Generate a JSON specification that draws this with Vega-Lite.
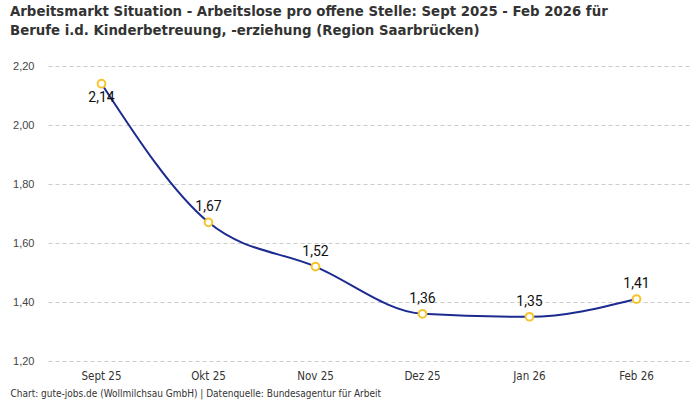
{
  "$schema": "https://vega.github.io/schema/vega-lite/v6.json",
  "width": 642,
  "height": 295,
  "autosize": {"type": "none"},
  "padding": {"left": 48, "top": 66, "right": 10, "bottom": 39},
  "background": "white",
  "config": {
    "locale": {"number": {"decimal": ",", "thousands": ".", "grouping": [3], "currency": ["", " €"]}},
    "view": {"stroke": null}
  },
  "title": {
    "text": ["Arbeitsmarkt Situation - Arbeitslose pro offene Stelle: Sept 2025 - Feb 2026 für", "Berufe i.d. Kinderbetreuung, -erziehung (Region Saarbrücken)"],
    "anchor": "start",
    "frame": "group",
    "dx": -38,
    "offset": 22,
    "font": "DejaVu Sans Condensed, Roboto",
    "fontSize": 14.8,
    "fontWeight": "bold",
    "color": "#333333",
    "lineHeight": 19
  },
  "data": {
    "values": [
      {"monat": "Sept 25", "wert": 2.14},
      {"monat": "Okt 25", "wert": 1.67},
      {"monat": "Nov 25", "wert": 1.52},
      {"monat": "Dez 25", "wert": 1.36},
      {"monat": "Jan 26", "wert": 1.35},
      {"monat": "Feb 26", "wert": 1.41}
    ]
  },
  "encoding": {
    "x": {
      "field": "monat",
      "type": "ordinal",
      "sort": null,
      "scale": {"type": "band", "paddingInner": 0, "paddingOuter": 0},
      "axis": {
        "title": "Chart: gute-jobs.de (Wollmilchsau GmbH) | Datenquelle: Bundesagentur für Arbeit",
        "titleAnchor": "start",
        "titleAlign": "left",
        "titleX": -38,
        "titleY": 27,
        "titleFont": "DejaVu Sans Condensed, Roboto",
        "titleFontSize": 10,
        "titleFontWeight": "normal",
        "titleColor": "#333333",
        "labelAngle": 0,
        "labelFont": "DejaVu Sans Condensed, Roboto",
        "labelFontSize": 11.5,
        "labelColor": "#333333",
        "labelPadding": 9,
        "ticks": false,
        "domain": false,
        "grid": false
      }
    },
    "y": {
      "field": "wert",
      "type": "quantitative",
      "scale": {"domain": [1.2, 2.2], "nice": false, "zero": false},
      "axis": {
        "title": null,
        "values": [1.2, 1.4, 1.6, 1.8, 2.0, 2.2],
        "format": ".2f",
        "labelFont": "Liberation Sans",
        "labelFontSize": 11,
        "labelColor": "#444444",
        "labelPadding": 14,
        "ticks": false,
        "domain": false,
        "grid": true,
        "gridColor": "#cccccc",
        "gridDash": [4, 3],
        "gridWidth": 1
      }
    }
  },
  "layer": [
    {
      "mark": {"type": "line", "interpolate": "monotone", "color": "#1c2b8f", "strokeWidth": 2}
    },
    {
      "mark": {"type": "point", "shape": "circle", "filled": true, "fill": "white", "stroke": "#f5c42c", "strokeWidth": 2, "size": 60, "opacity": 1}
    },
    {
      "transform": [{"filter": "datum.monat === 'Sept 25'"}],
      "mark": {"type": "text", "dy": 14, "font": "Roboto", "fontSize": 14, "color": "#111111"},
      "encoding": {"text": {"field": "wert", "type": "quantitative", "format": ".2f"}}
    },
    {
      "transform": [{"filter": "datum.monat !== 'Sept 25'"}],
      "mark": {"type": "text", "dy": -15, "font": "Roboto", "fontSize": 14, "color": "#111111"},
      "encoding": {"text": {"field": "wert", "type": "quantitative", "format": ".2f"}}
    }
  ]
}
